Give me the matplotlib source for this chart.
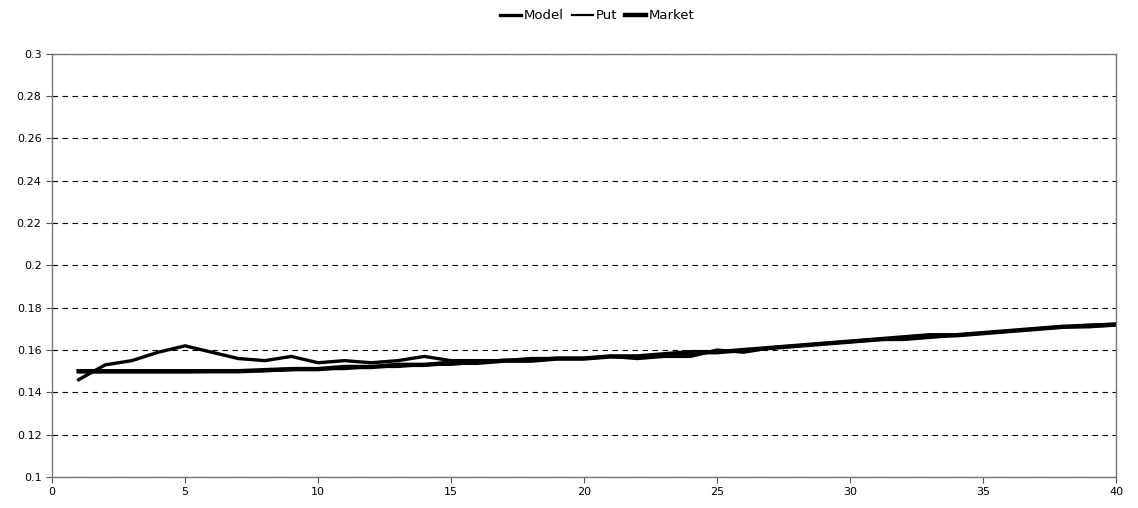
import numpy as np
import matplotlib
matplotlib.use('Agg')
import matplotlib.pyplot as plt

# 数据：从参考图读取
steps = list(range(1, 41))
model = [0.146, 0.153, 0.155, 0.159, 0.162, 0.159, 0.156, 0.155, 0.157, 0.154,
         0.155, 0.154, 0.155, 0.157, 0.155, 0.155, 0.155, 0.156, 0.156, 0.156,
         0.157, 0.156, 0.157, 0.157, 0.160, 0.159, 0.161, 0.162, 0.163, 0.164,
         0.165, 0.165, 0.166, 0.167, 0.168, 0.169, 0.170, 0.171, 0.171, 0.172]
put = [0.1495, 0.1495, 0.1495, 0.1495, 0.1495, 0.1497, 0.150, 0.150, 0.1505, 0.151,
       0.151, 0.152, 0.152, 0.153, 0.153, 0.154, 0.155, 0.155, 0.156, 0.156,
       0.157, 0.157, 0.158, 0.158, 0.159, 0.160, 0.161, 0.162, 0.163, 0.164,
       0.165, 0.165, 0.166, 0.167, 0.168, 0.169, 0.170, 0.171, 0.172, 0.1725]
market = [0.150, 0.150, 0.150, 0.150, 0.150, 0.150, 0.150, 0.1505, 0.151, 0.151,
          0.152, 0.152, 0.153, 0.153, 0.154, 0.154, 0.155, 0.155, 0.156, 0.156,
          0.157, 0.157, 0.158, 0.159, 0.159, 0.160, 0.161, 0.162, 0.163, 0.164,
          0.165, 0.166, 0.167, 0.167, 0.168, 0.169, 0.170, 0.171, 0.1715, 0.172]

fig = plt.figure(figsize=(11.38, 5.08), dpi=100)
ax = fig.add_axes([0.0457, 0.061, 0.935, 0.833])

ax.plot(steps, model, color='black', linewidth=2.4, label='Model')
ax.plot(steps, put, color='black', linewidth=1.6, label='Put')
ax.plot(steps, market, color='black', linewidth=3.2, label='Market')

ax.set_xlim(0, 40)
ax.set_ylim(0.1, 0.3)
ax.set_xticks(range(0, 41, 5))
ax.set_yticks(np.arange(0.1, 0.301, 0.02))
ax.set_yticklabels(['0.1', '0.12', '0.14', '0.16', '0.18', '0.2',
                    '0.22', '0.24', '0.26', '0.28', '0.3'])
ax.yaxis.grid(True, linestyle=(0, (5, 4)), color='black', linewidth=0.8)
ax.tick_params(labelsize=8, length=4, width=0.8, color='#555555')
for s in ax.spines.values():
    s.set_color('#777777')
    s.set_linewidth(1.0)

fig.legend(loc='upper center', ncol=3, frameon=False, fontsize=9.5,
           bbox_to_anchor=(0.525, 1.005), handlelength=1.6, handletextpad=0.2,
           columnspacing=0.6)

plt.savefig('out.png', dpi=100)
